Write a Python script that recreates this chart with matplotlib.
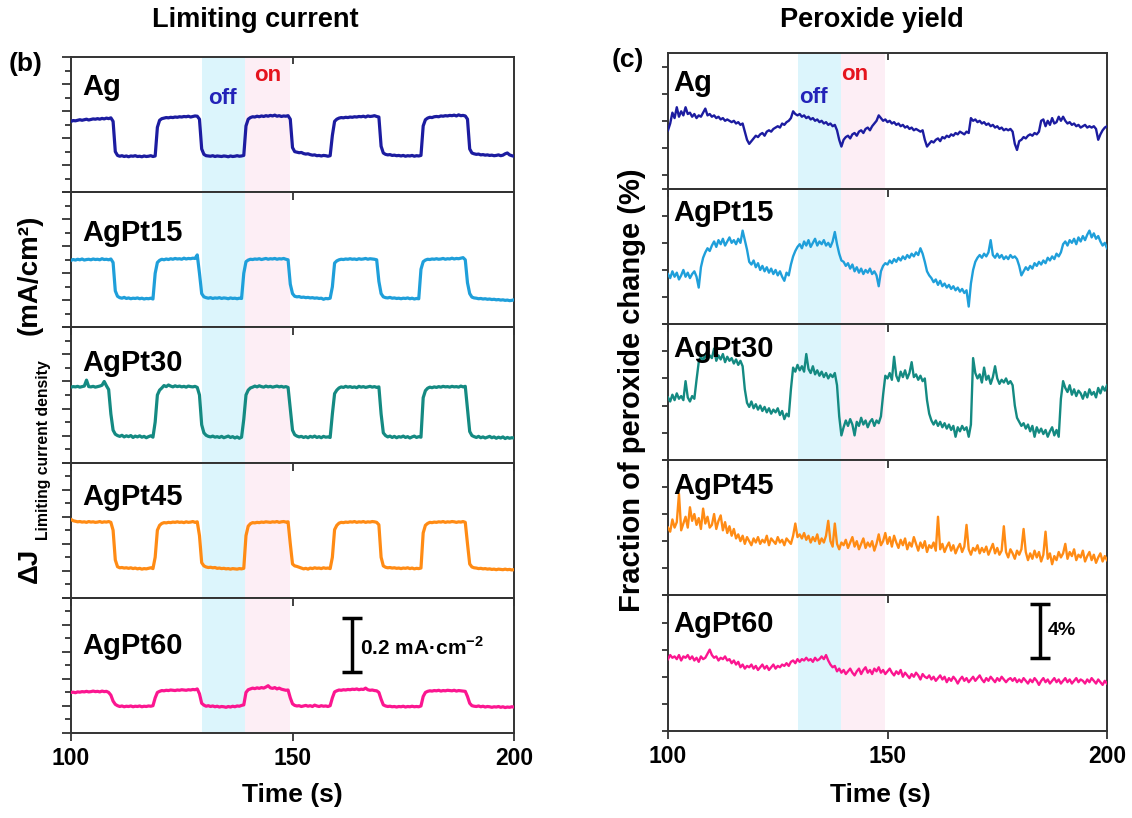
import numpy as np
import matplotlib
matplotlib.use("Agg")
import matplotlib.pyplot as plt
from matplotlib.ticker import MultipleLocator, FixedLocator

plt.rcParams['font.family'] = ['Liberation Sans', 'DejaVu Sans']
plt.rcParams['font.weight'] = 'bold'
plt.rcParams['mathtext.fontset'] = 'custom'
plt.rcParams['mathtext.rm'] = 'Liberation Sans:bold'
plt.rcParams['mathtext.bf'] = 'Liberation Sans:bold'

# sampling grid of the traces (s)
time = np.linspace(100, 200, 201)

names = ['Ag', 'AgPt15', 'AgPt30', 'AgPt45', 'AgPt60']
colors = ['#1c1ca0', '#1f9fda', '#148a82', '#ff8b14', '#fb1690']

# limiting current density change (mA/cm2), one row = 10 s
cur_ag = [
    0.262, 0.265, 0.264, 0.266, 0.268, 0.266, 0.268, 0.270, 0.267, 0.269, 0.271, 0.270, 0.272, 0.270, 0.273, 0.271, 0.274, 0.272, 0.275, 0.262,
    0.150, 0.136, 0.133, 0.135, 0.132, 0.134, 0.131, 0.134, 0.133, 0.135, 0.132, 0.133, 0.131, 0.134, 0.132, 0.133, 0.135, 0.132, 0.134, 0.240,
    0.266, 0.272, 0.274, 0.276, 0.275, 0.277, 0.276, 0.278, 0.277, 0.279, 0.278, 0.280, 0.279, 0.281, 0.278, 0.280, 0.282, 0.281, 0.270, 0.160,
    0.140, 0.135, 0.134, 0.133, 0.135, 0.132, 0.134, 0.133, 0.132, 0.134, 0.133, 0.131, 0.134, 0.132, 0.133, 0.135, 0.133, 0.134, 0.136, 0.245,
    0.270, 0.276, 0.279, 0.278, 0.281, 0.279, 0.282, 0.280, 0.283, 0.281, 0.284, 0.282, 0.285, 0.281, 0.283, 0.280, 0.282, 0.281, 0.283, 0.270,
    0.165, 0.150, 0.148, 0.146, 0.147, 0.143, 0.141, 0.142, 0.139, 0.137, 0.138, 0.135, 0.136, 0.134, 0.136, 0.135, 0.133, 0.135, 0.210, 0.262,
    0.270, 0.274, 0.276, 0.275, 0.277, 0.276, 0.278, 0.277, 0.279, 0.278, 0.280, 0.279, 0.281, 0.278, 0.282, 0.280, 0.281, 0.283, 0.280, 0.278,
    0.170, 0.145, 0.140, 0.138, 0.139, 0.136, 0.137, 0.135, 0.136, 0.134, 0.136, 0.133, 0.135, 0.134, 0.136, 0.133, 0.135, 0.134, 0.136, 0.245,
    0.268, 0.274, 0.277, 0.276, 0.279, 0.280, 0.279, 0.282, 0.281, 0.283, 0.282, 0.284, 0.283, 0.285, 0.282, 0.286, 0.283, 0.284, 0.282, 0.270,
    0.160, 0.145, 0.142, 0.140, 0.141, 0.138, 0.139, 0.137, 0.138, 0.136, 0.137, 0.135, 0.136, 0.138, 0.135, 0.137, 0.142, 0.145, 0.138, 0.135,
    0.133]
cur_agpt15 = [
    0.248, 0.251, 0.249, 0.252, 0.250, 0.253, 0.249, 0.251, 0.252, 0.250, 0.253, 0.251, 0.252, 0.250, 0.254, 0.251, 0.252, 0.250, 0.253, 0.240,
    0.135, 0.115, 0.110, 0.108, 0.111, 0.107, 0.109, 0.106, 0.108, 0.107, 0.109, 0.106, 0.108, 0.105, 0.107, 0.106, 0.108, 0.105, 0.200, 0.240,
    0.248, 0.252, 0.250, 0.253, 0.251, 0.254, 0.252, 0.255, 0.253, 0.254, 0.252, 0.256, 0.253, 0.255, 0.254, 0.256, 0.255, 0.268, 0.200, 0.125,
    0.113, 0.110, 0.108, 0.110, 0.107, 0.109, 0.108, 0.110, 0.107, 0.109, 0.108, 0.106, 0.109, 0.107, 0.108, 0.106, 0.108, 0.107, 0.200, 0.243,
    0.249, 0.252, 0.251, 0.253, 0.252, 0.254, 0.251, 0.253, 0.255, 0.252, 0.254, 0.253, 0.255, 0.252, 0.254, 0.253, 0.255, 0.252, 0.250, 0.160,
    0.125, 0.115, 0.113, 0.114, 0.111, 0.112, 0.110, 0.111, 0.109, 0.110, 0.108, 0.109, 0.107, 0.108, 0.104, 0.107, 0.106, 0.108, 0.150, 0.238,
    0.246, 0.250, 0.252, 0.251, 0.253, 0.252, 0.254, 0.252, 0.253, 0.251, 0.254, 0.252, 0.253, 0.255, 0.252, 0.254, 0.253, 0.252, 0.250, 0.170,
    0.125, 0.113, 0.110, 0.109, 0.111, 0.108, 0.109, 0.107, 0.108, 0.106, 0.108, 0.107, 0.109, 0.106, 0.108, 0.105, 0.107, 0.106, 0.215, 0.243,
    0.249, 0.252, 0.251, 0.253, 0.252, 0.254, 0.252, 0.253, 0.255, 0.252, 0.254, 0.253, 0.256, 0.253, 0.255, 0.254, 0.256, 0.258, 0.250, 0.165,
    0.125, 0.112, 0.109, 0.108, 0.106, 0.107, 0.105, 0.106, 0.104, 0.105, 0.103, 0.104, 0.102, 0.103, 0.101, 0.102, 0.100, 0.101, 0.099, 0.100,
    0.102]
cur_agpt30 = [
    0.279, 0.281, 0.280, 0.282, 0.279, 0.281, 0.283, 0.305, 0.281, 0.280, 0.282, 0.279, 0.281, 0.283, 0.286, 0.300, 0.284, 0.270, 0.180, 0.120,
    0.105, 0.100, 0.097, 0.101, 0.095, 0.099, 0.096, 0.100, 0.093, 0.098, 0.095, 0.099, 0.094, 0.097, 0.092, 0.096, 0.099, 0.094, 0.150, 0.250,
    0.268, 0.276, 0.285, 0.281, 0.287, 0.283, 0.280, 0.284, 0.281, 0.283, 0.280, 0.282, 0.279, 0.283, 0.281, 0.280, 0.282, 0.278, 0.250, 0.140,
    0.110, 0.101, 0.097, 0.095, 0.098, 0.094, 0.096, 0.093, 0.097, 0.092, 0.095, 0.098, 0.093, 0.096, 0.091, 0.095, 0.090, 0.094, 0.160, 0.250,
    0.268, 0.276, 0.279, 0.283, 0.280, 0.284, 0.281, 0.279, 0.283, 0.280, 0.282, 0.279, 0.281, 0.283, 0.280, 0.282, 0.279, 0.281, 0.278, 0.200,
    0.120, 0.103, 0.098, 0.095, 0.097, 0.093, 0.096, 0.092, 0.097, 0.094, 0.098, 0.093, 0.096, 0.092, 0.097, 0.094, 0.095, 0.093, 0.180, 0.255,
    0.268, 0.276, 0.280, 0.278, 0.282, 0.279, 0.281, 0.278, 0.280, 0.277, 0.282, 0.279, 0.281, 0.278, 0.280, 0.282, 0.279, 0.281, 0.278, 0.280,
    0.180, 0.110, 0.100, 0.095, 0.098, 0.093, 0.097, 0.092, 0.096, 0.094, 0.098, 0.093, 0.096, 0.091, 0.095, 0.098, 0.093, 0.096, 0.094, 0.240,
    0.266, 0.275, 0.279, 0.277, 0.280, 0.278, 0.281, 0.279, 0.282, 0.280, 0.281, 0.279, 0.282, 0.280, 0.281, 0.279, 0.283, 0.280, 0.282, 0.200,
    0.115, 0.100, 0.096, 0.093, 0.097, 0.092, 0.095, 0.091, 0.094, 0.097, 0.092, 0.095, 0.090, 0.094, 0.091, 0.095, 0.089, 0.093, 0.090, 0.092,
    0.091]
cur_agpt45 = [
    0.290, 0.285, 0.283, 0.281, 0.282, 0.280, 0.281, 0.279, 0.282, 0.280, 0.281, 0.279, 0.280, 0.282, 0.279, 0.281, 0.280, 0.282, 0.279, 0.250,
    0.140, 0.115, 0.111, 0.112, 0.110, 0.111, 0.109, 0.111, 0.108, 0.110, 0.107, 0.109, 0.106, 0.108, 0.107, 0.109, 0.111, 0.108, 0.150, 0.250,
    0.268, 0.275, 0.278, 0.277, 0.279, 0.278, 0.280, 0.279, 0.281, 0.279, 0.280, 0.278, 0.281, 0.279, 0.280, 0.282, 0.279, 0.281, 0.230, 0.130,
    0.118, 0.114, 0.112, 0.113, 0.111, 0.112, 0.109, 0.110, 0.108, 0.109, 0.107, 0.108, 0.106, 0.108, 0.107, 0.106, 0.108, 0.107, 0.109, 0.230,
    0.265, 0.274, 0.278, 0.277, 0.279, 0.278, 0.280, 0.279, 0.281, 0.280, 0.279, 0.281, 0.280, 0.282, 0.279, 0.281, 0.282, 0.280, 0.281, 0.200,
    0.125, 0.118, 0.116, 0.113, 0.110, 0.107, 0.109, 0.106, 0.110, 0.108, 0.111, 0.109, 0.110, 0.108, 0.111, 0.109, 0.110, 0.108, 0.150, 0.252,
    0.268, 0.276, 0.279, 0.278, 0.280, 0.279, 0.281, 0.280, 0.282, 0.279, 0.281, 0.280, 0.282, 0.279, 0.281, 0.280, 0.282, 0.281, 0.279, 0.270,
    0.150, 0.118, 0.113, 0.111, 0.112, 0.110, 0.111, 0.109, 0.110, 0.108, 0.110, 0.109, 0.111, 0.108, 0.110, 0.107, 0.109, 0.108, 0.110, 0.240,
    0.268, 0.275, 0.279, 0.278, 0.280, 0.279, 0.281, 0.280, 0.282, 0.279, 0.281, 0.280, 0.282, 0.281, 0.279, 0.281, 0.280, 0.282, 0.279, 0.200,
    0.125, 0.114, 0.111, 0.110, 0.108, 0.109, 0.107, 0.108, 0.106, 0.107, 0.105, 0.106, 0.104, 0.106, 0.105, 0.104, 0.106, 0.104, 0.105, 0.103,
    0.104]
cur_agpt60 = [
    0.150, 0.151, 0.149, 0.152, 0.151, 0.153, 0.152, 0.154, 0.152, 0.153, 0.155, 0.153, 0.154, 0.152, 0.155, 0.153, 0.154, 0.150, 0.140, 0.118,
    0.106, 0.101, 0.098, 0.100, 0.097, 0.099, 0.098, 0.100, 0.097, 0.099, 0.098, 0.100, 0.097, 0.099, 0.098, 0.100, 0.099, 0.101, 0.130, 0.150,
    0.154, 0.157, 0.156, 0.158, 0.157, 0.159, 0.158, 0.157, 0.159, 0.158, 0.160, 0.159, 0.158, 0.160, 0.159, 0.161, 0.160, 0.163, 0.145, 0.110,
    0.103, 0.099, 0.101, 0.098, 0.100, 0.097, 0.099, 0.096, 0.098, 0.097, 0.095, 0.098, 0.096, 0.099, 0.097, 0.100, 0.099, 0.102, 0.104, 0.150,
    0.160, 0.163, 0.166, 0.164, 0.167, 0.165, 0.168, 0.166, 0.170, 0.175, 0.167, 0.165, 0.168, 0.163, 0.166, 0.162, 0.160, 0.158, 0.159, 0.130,
    0.108, 0.102, 0.100, 0.101, 0.098, 0.100, 0.102, 0.099, 0.101, 0.098, 0.103, 0.100, 0.098, 0.101, 0.099, 0.100, 0.098, 0.101, 0.130, 0.152,
    0.156, 0.159, 0.158, 0.160, 0.159, 0.161, 0.160, 0.162, 0.161, 0.163, 0.160, 0.162, 0.161, 0.166, 0.160, 0.158, 0.159, 0.157, 0.156, 0.150,
    0.125, 0.104, 0.100, 0.098, 0.099, 0.097, 0.098, 0.096, 0.098, 0.097, 0.099, 0.096, 0.098, 0.097, 0.099, 0.097, 0.098, 0.097, 0.100, 0.135,
    0.150, 0.154, 0.156, 0.155, 0.157, 0.156, 0.158, 0.155, 0.157, 0.156, 0.158, 0.157, 0.156, 0.158, 0.155, 0.157, 0.156, 0.155, 0.154, 0.135,
    0.110, 0.101, 0.099, 0.098, 0.100, 0.097, 0.099, 0.096, 0.098, 0.097, 0.095, 0.097, 0.096, 0.098, 0.095, 0.097, 0.094, 0.096, 0.095, 0.097,
    0.096]

# fraction of peroxide change (%), one row = 10 s
perox_ag = [
    4.3, 4.8, 5.6, 5.2, 6.0, 5.3, 5.7, 5.4, 6.0, 5.5, 5.6, 5.3, 5.5, 5.2, 5.4, 5.3, 5.6, 5.9, 5.4, 5.5,
    5.3, 5.4, 5.2, 5.3, 5.1, 5.2, 5.0, 5.1, 5.0, 4.9, 5.0, 4.8, 4.9, 4.7, 4.8, 4.2, 3.6, 3.3, 3.5, 3.7,
    3.9, 3.8, 4.0, 4.1, 3.9, 4.2, 4.3, 4.2, 4.4, 4.5, 4.6, 4.5, 4.8, 4.7, 4.9, 5.0, 5.2, 5.7, 5.5, 5.4,
    5.5, 5.3, 5.4, 5.2, 5.3, 5.1, 5.2, 5.0, 5.1, 4.9, 5.0, 4.8, 4.9, 4.7, 4.8, 4.6, 4.7, 4.3, 3.6, 3.1,
    3.6, 3.8, 3.9, 3.7, 4.0, 4.1, 3.9, 4.2, 4.3, 4.1, 4.4, 4.5, 4.3, 4.6, 4.8, 5.0, 5.4, 5.2, 5.0, 5.1,
    4.9, 5.0, 4.8, 4.9, 4.7, 4.8, 4.6, 4.7, 4.5, 4.6, 4.4, 4.5, 4.3, 4.4, 4.3, 4.2, 4.3, 3.6, 3.1, 3.3,
    3.5, 3.4, 3.6, 3.7, 3.5, 3.8, 3.7, 3.9, 3.8, 4.0, 3.9, 4.1, 4.0, 4.2, 4.1, 4.0, 4.2, 4.1, 5.2, 5.0,
    5.1, 4.9, 5.0, 4.8, 4.9, 4.7, 4.8, 4.6, 4.7, 4.5, 4.6, 4.4, 4.5, 4.3, 4.4, 4.3, 4.4, 4.2, 3.3, 2.85,
    3.5, 3.6, 3.8, 3.7, 3.9, 4.0, 3.9, 4.1, 4.0, 4.2, 5.0, 5.1, 4.6, 5.0, 4.7, 5.2, 4.8, 4.9, 5.3, 5.0,
    5.3, 5.0, 4.8, 4.9, 4.7, 4.8, 4.6, 4.7, 4.5, 4.6, 4.7, 4.5, 4.6, 4.5, 4.6, 4.4, 3.6, 4.0, 4.3, 4.5,
    4.6]
perox_agpt15 = [
    3.7, 3.4, 3.9, 3.5, 3.8, 3.3, 3.6, 4.0, 3.5, 3.8, 3.4, 3.7, 3.9, 3.5, 2.7, 4.2, 4.9, 5.3, 5.6, 5.4,
    5.8, 6.1, 5.7, 6.2, 5.9, 6.3, 5.8, 6.1, 6.4, 6.0, 6.2, 5.9, 6.3, 6.0, 6.9, 6.2, 5.5, 4.6, 4.4, 4.7,
    4.2, 4.5, 4.0, 4.3, 3.9, 4.2, 3.8, 4.1, 3.7, 4.0, 3.6, 3.9, 3.5, 3.2, 3.8, 3.6, 4.4, 5.0, 5.4, 5.7,
    5.9, 5.6, 6.1, 5.8, 6.2, 5.7, 6.0, 6.3, 5.8, 6.1, 5.9, 6.2, 5.8, 6.0, 5.7, 6.1, 6.8, 5.9, 5.2, 4.7,
    4.6, 4.3, 4.5, 4.1, 4.4, 3.9, 4.2, 3.8, 4.1, 3.7, 4.0, 3.8, 4.1, 3.7, 3.9, 3.6, 2.8, 3.9, 4.3, 4.5,
    4.4, 4.7, 4.5, 4.8, 4.6, 4.9, 4.7, 5.0, 4.8, 5.1, 4.9, 5.2, 5.0, 5.3, 5.1, 5.6, 5.2, 4.6, 3.9, 3.6,
    3.4, 3.1, 3.3, 2.9, 3.2, 2.8, 3.0, 2.7, 2.9, 2.6, 2.8, 2.5, 2.7, 2.4, 2.6, 2.3, 2.5, 1.3, 3.0, 4.0,
    4.6, 4.9, 5.1, 4.9, 5.2, 5.0, 5.3, 6.2, 5.1, 4.9, 5.2, 4.9, 5.1, 4.8, 5.0, 4.8, 5.1, 4.9, 5.0, 4.8,
    4.3, 3.6, 3.9, 4.2, 4.0, 4.3, 4.1, 4.5, 4.3, 4.6, 4.4, 4.7, 4.5, 4.9, 4.7, 5.0, 4.8, 5.2, 5.0, 5.3,
    5.9, 6.1, 5.8, 6.2, 6.0, 6.3, 5.9, 6.4, 6.1, 6.5, 6.2, 6.6, 6.9, 6.4, 6.7, 6.3, 6.5, 6.1, 5.8, 6.0,
    5.6]
perox_agpt30 = [
    4.6, 4.3, 4.8, 4.4, 4.9, 4.5, 4.7, 4.4, 5.8, 4.6, 4.3, 4.7, 4.5, 5.9, 7.2, 7.6, 7.3, 7.8, 7.4, 7.7,
    7.5, 8.2, 7.3, 7.7, 7.4, 7.8, 7.2, 7.6, 7.3, 7.5, 7.1, 7.4, 7.0, 7.3, 6.9, 5.2, 4.2, 3.9, 4.3, 3.8,
    4.1, 3.7, 4.0, 3.6, 3.9, 3.5, 3.8, 3.4, 3.7, 3.5, 3.8, 3.3, 3.6, 3.0, 3.4, 3.2, 5.2, 6.8, 6.5, 7.0,
    6.6, 6.9, 6.5, 7.8, 6.7, 6.4, 6.9, 6.3, 6.6, 6.2, 6.5, 6.1, 6.4, 6.0, 6.3, 6.1, 6.4, 5.5, 3.2, 1.8,
    2.4, 2.9, 2.5, 3.0, 2.6, 1.8, 2.8, 2.5, 3.1, 2.6, 2.9, 2.4, 2.8, 3.0, 2.5, 2.9, 2.7, 3.2, 4.8, 6.2,
    6.0, 6.4, 5.9, 7.6, 6.2, 5.8, 6.5, 6.1, 6.6, 6.0, 6.4, 7.2, 6.1, 6.3, 5.9, 6.2, 5.8, 6.0, 4.4, 3.4,
    2.9, 2.6, 2.9, 2.5, 2.8, 2.4, 2.7, 2.3, 2.6, 2.2, 2.5, 1.7, 2.4, 2.1, 2.5, 2.2, 2.4, 1.7, 2.6, 7.5,
    6.4, 6.0, 6.3, 5.7, 6.8, 5.9, 6.2, 5.6, 6.1, 6.9, 6.0, 5.6, 5.9, 5.7, 6.0, 5.6, 5.8, 5.5, 4.0, 3.1,
    2.8, 2.5, 2.7, 2.3, 2.6, 2.1, 2.5, 1.7, 2.4, 2.0, 2.3, 1.9, 2.2, 1.7, 2.1, 2.4, 1.8, 2.2, 1.7, 4.5,
    5.8, 5.3, 5.0, 5.5, 4.8, 5.2, 4.7, 5.1, 4.9, 4.5, 5.0, 4.6, 5.2, 4.8, 5.0, 4.6, 5.3, 4.9, 5.4, 5.1,
    5.5]
perox_agpt45 = [
    5.0, 4.7, 5.6, 5.0, 5.4, 7.5, 4.8, 5.3, 5.8, 5.0, 6.5, 5.5, 6.0, 5.2, 5.7, 4.9, 6.4, 5.3, 5.8, 5.0,
    5.2, 6.0, 4.9, 5.5, 5.9, 4.8, 5.4, 4.6, 5.1, 4.4, 4.9, 4.2, 4.5, 4.0, 4.4, 3.8, 4.3, 4.0, 3.7, 4.2,
    3.9, 4.3, 3.8, 4.1, 3.9, 4.4, 3.7, 4.2, 4.0, 3.8, 4.3, 3.9, 4.1, 3.7, 4.2, 4.0, 3.8, 4.4, 5.3, 4.3,
    4.5, 4.2, 4.6, 4.1, 4.4, 3.9, 4.3, 4.0, 4.5, 3.8, 4.2, 3.9, 4.4, 5.5, 4.0, 3.6, 5.3, 3.8, 3.4, 3.9,
    3.7, 4.1, 3.5, 3.9, 4.3, 3.6, 4.0, 3.4, 3.8, 4.2, 3.5, 3.9, 3.6, 4.0, 3.3, 3.8, 4.5, 3.7, 4.0, 4.6,
    3.8, 4.3, 3.6, 4.4, 3.9, 3.5, 4.1, 3.7, 4.2, 3.4, 3.9, 3.6, 4.3, 3.8, 3.3, 3.9, 3.5, 4.0, 3.2, 3.7,
    3.5, 3.9, 3.3, 5.8, 3.4, 3.8, 3.2, 3.6, 3.9, 3.3, 3.7, 3.1, 3.5, 3.8, 3.2, 3.6, 5.2, 3.4, 3.0, 3.5,
    3.3, 3.7, 3.1, 3.5, 3.2, 3.6, 3.0, 3.4, 3.8, 3.1, 3.5, 3.0, 3.3, 5.1, 3.2, 2.8, 3.4, 3.1, 2.7, 3.3,
    3.0, 3.4, 4.9, 3.2, 2.6, 3.1, 2.7, 3.3, 2.8, 3.2, 2.5, 3.0, 4.7, 2.7, 3.1, 2.3, 2.9, 2.6, 3.2, 2.8,
    3.1, 3.8, 2.7, 3.2, 2.9, 3.4, 2.6, 3.0, 2.8, 3.3, 2.5, 2.9, 3.2, 2.6, 3.0, 2.4, 2.8, 3.1, 2.5, 2.9,
    2.6]
perox_agpt60 = [
    5.3, 5.6, 5.4, 5.5, 5.3, 5.6, 5.2, 5.5, 5.4, 5.6, 5.3, 5.5, 5.2, 5.4, 5.1, 5.5, 5.3, 5.4, 5.7, 6.0,
    5.6, 5.4, 5.5, 5.2, 5.4, 5.3, 5.5, 5.2, 5.3, 5.0, 5.2, 4.9, 5.1, 4.7, 4.9, 4.6, 4.8, 4.7, 4.9, 4.6,
    4.8, 4.5, 4.7, 4.9, 4.6, 4.8, 4.5, 4.7, 4.9, 4.6, 4.8, 4.7, 4.9, 4.8, 5.0, 4.8, 5.1, 5.2, 5.0, 5.3,
    5.1, 5.3, 5.2, 5.4, 5.2, 5.3, 5.1, 5.4, 5.2, 5.3, 5.5, 5.3, 5.6, 5.2, 4.9, 4.7, 4.8, 4.4, 4.6, 4.3,
    4.5, 4.2, 4.4, 4.6, 4.3, 4.1, 4.4, 4.6, 4.2, 4.5, 4.7, 4.3, 4.5, 4.2, 4.6, 4.4, 4.7, 4.3, 4.5, 4.2,
    4.4, 4.6, 4.3, 4.1, 4.4, 4.2, 4.5, 4.0, 4.3, 4.1, 3.9, 4.2, 4.0, 4.3, 4.1, 3.8, 4.2, 4.0, 3.9, 4.1,
    3.8, 4.0, 3.7, 3.9, 4.1, 3.8, 4.0, 3.6, 3.9, 3.7, 4.0, 3.8, 3.5, 3.8, 4.0, 3.7, 3.9, 3.6, 3.8, 4.0,
    3.7, 3.9, 4.1, 3.8, 3.6, 3.9, 3.7, 4.0, 3.8, 3.6, 3.9, 3.7, 4.0, 3.8, 3.6, 3.8, 3.9, 3.7, 3.9, 3.6,
    3.8, 3.6, 3.9, 3.7, 3.5, 3.8, 3.6, 3.9, 3.7, 3.4, 3.7, 3.9, 3.6, 3.8, 3.5, 3.7, 3.9, 3.6, 3.8, 3.5,
    3.7, 3.9, 3.6, 3.8, 3.5, 3.7, 3.9, 3.6, 3.8, 3.7, 3.5, 3.8, 3.6, 3.9, 3.7, 3.5, 3.8, 3.6, 3.4, 3.7,
    3.5]

current = [cur_ag, cur_agpt15, cur_agpt30, cur_agpt45, cur_agpt60]
peroxide = [perox_ag, perox_agpt15, perox_agpt30, perox_agpt45, perox_agpt60]

off_span = (129.5, 139.3)
on_span = (139.3, 149.5)

W, H = 1132, 818
fig = plt.figure(figsize=(W / 100, H / 100), dpi=100)

frame = '#333333'


def make_panels(x0, x1, y_top, y_bot):
    axes = []
    h = (y_bot - y_top) / 5
    for i in range(5):
        top = y_top + i * h
        ax = fig.add_axes([x0 / W, 1 - (top + h) / H, (x1 - x0) / W, h / H])
        ax.patch.set_visible(False)
        for s in ax.spines.values():
            s.set_color(frame)
            s.set_linewidth(1.4)
        ax.axvspan(*off_span, color='#dcf5fc', lw=0, zorder=0)
        ax.axvspan(*on_span, color='#fdeef5', lw=0, zorder=0)
        ax.set_xlim(100, 200)
        ax.xaxis.set_major_locator(FixedLocator([100, 150, 200]))
        ax.tick_params(axis='x', direction='out', length=6, width=1.3, color=frame,
                       labelsize=16.5, pad=4, labelbottom=(i == 4))
        axes.append(ax)
    return axes


left_axes = make_panels(71, 514, 57, 733)
right_axes = make_panels(668, 1107, 53, 731)

label_y_left = [0.776, 0.70, 0.74, 0.745, 0.64]
label_y_right = [0.78, 0.82, 0.82, 0.81, 0.79]

for i, ax in enumerate(left_axes):
    ax.plot(time, current[i], color=colors[i], lw=2.3, zorder=3)
    ax.set_ylim(0, 0.5)
    ax.yaxis.set_major_locator(MultipleLocator(0.1))
    ax.yaxis.set_minor_locator(MultipleLocator(0.05))
    ax.tick_params(axis='y', which='major', direction='out', length=6.5, width=1.3,
                   color=frame, labelleft=False)
    ax.tick_params(axis='y', which='minor', direction='out', length=4, width=1.3,
                   color=frame)
    ax.text(0.025, label_y_left[i], names[i], transform=ax.transAxes, fontsize=21,
            fontweight='bold', ha='left', va='center')

for i, ax in enumerate(right_axes):
    ax.plot(time, peroxide[i], color=colors[i], lw=1.7, zorder=3)
    ax.set_ylim(0, 10)
    if i == 0:
        ax.yaxis.set_major_locator(FixedLocator([1, 3, 5, 7, 9]))
    else:
        ax.yaxis.set_major_locator(MultipleLocator(2))
    ax.tick_params(axis='y', which='major', direction='out', length=4.5, width=1.3,
                   color=frame, labelleft=False)
    ax.text(0.012, label_y_right[i], names[i], transform=ax.transAxes, fontsize=21,
            fontweight='bold', ha='left', va='center')

# top ticks of the first panels
for ax in (left_axes[0], right_axes[0]):
    sec = ax.secondary_xaxis('top')
    sec.set_xticks([150])
    sec.tick_params(direction='in', length=5, width=1.3, color=frame, labeltop=False)
    sec.spines['top'].set_visible(False)

# off / on markers
for ax, off_pos, on_pos in [(left_axes[0], (134.1, 0.69), (144.4, 0.86)),
                            (right_axes[0], (133.2, 0.67), (142.5, 0.84))]:
    tr = ax.get_xaxis_transform()
    ax.text(*off_pos, 'off', transform=tr, color='#2323b8', fontsize=16,
            fontweight='bold', ha='center', va='center')
    ax.text(*on_pos, 'on', transform=tr, color='#e5141e', fontsize=16,
            fontweight='bold', ha='center', va='center')

# scale bars
ax = left_axes[4]
ax.errorbar([163.4], [0.325], yerr=[0.1], color='black', lw=2.5, capsize=7.5,
            capthick=2.5, zorder=4)
ax.text(165.3, 0.318, '0.2 mA·cm$^{\\mathbf{-2}}$', fontsize=15, fontweight='bold',
        ha='left', va='center')
ax = right_axes[4]
ax.errorbar([184.7], [7.4], yerr=[2.0], color='black', lw=2.5, capsize=7.5,
            capthick=2.5, zorder=4)
ax.text(186.4, 7.4, '4%', fontsize=14, fontweight='bold', ha='left', va='center')

# titles and panel letters
fig.text(255 / W, 1 - 20 / H, 'Limiting current', fontsize=19.5, fontweight='bold',
         ha='center', va='center')
fig.text(872 / W, 1 - 20 / H, 'Peroxide yield', fontsize=19.5, fontweight='bold',
         ha='center', va='center')
fig.text(26 / W, 1 - 64 / H, '(b)', fontsize=19, fontweight='bold', ha='center', va='center')
fig.text(628 / W, 1 - 60 / H, '(c)', fontsize=19, fontweight='bold', ha='center', va='center')

# x labels
fig.text(292 / W, 1 - 795 / H, 'Time (s)', fontsize=19, fontweight='bold',
         ha='center', va='center')
fig.text(880 / W, 1 - 795 / H, 'Time (s)', fontsize=19, fontweight='bold',
         ha='center', va='center')

# y labels
fig.text(30 / W, 1 - 583 / H, 'ΔJ', rotation=90, fontsize=20, fontweight='bold',
         ha='center', va='bottom')
fig.text(44 / W, 1 - 540 / H, 'Limiting current density', rotation=90, fontsize=11.3,
         fontweight='bold', ha='center', va='bottom')
fig.text(30 / W, 1 - 335 / H, '(mA/cm²)', rotation=90, fontsize=20, fontweight='bold',
         ha='center', va='bottom')
fig.text(632 / W, 1 - 390 / H, 'Fraction of peroxide change (%)', rotation=90,
         fontsize=21, fontweight='bold', ha='center', va='center')

fig.savefig('out.png', dpi=100)
